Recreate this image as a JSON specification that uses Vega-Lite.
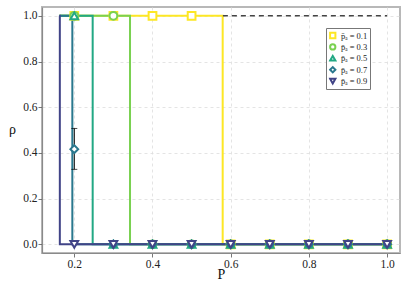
{
  "$schema": "https://vega.github.io/schema/vega-lite/v6.json",
  "autosize": "none",
  "width": 358,
  "height": 246,
  "padding": {"left": 42, "top": 7, "right": 7, "bottom": 35},
  "background": "white",
  "config": {
    "font": "Liberation Serif",
    "view": {"stroke": "#b8b8b8", "strokeWidth": 2},
    "axis": {
      "grid": true,
      "gridColor": "#dddddd",
      "gridDash": [3, 3],
      "gridWidth": 0.8,
      "domainColor": "#8a8a8a",
      "domainWidth": 1.2,
      "tickColor": "#555555",
      "tickSize": 4,
      "tickWidth": 0.8,
      "labelFont": "Liberation Serif",
      "labelFontSize": 11.5,
      "labelColor": "#222222",
      "labelPadding": 1,
      "titleFont": "Liberation Serif",
      "titleFontWeight": "normal",
      "titleColor": "#111111",
      "titleFontSize": 14
    },
    "legend": {
      "labelFont": "Liberation Serif",
      "labelFontSize": 8.5,
      "labelColor": "#222222",
      "strokeColor": "#777777",
      "fillColor": "white",
      "padding": 2.5,
      "cornerRadius": 0,
      "rowPadding": 1.4,
      "clipHeight": 10,
      "symbolSize": 28,
      "symbolStrokeWidth": 2,
      "symbolFillColor": "white",
      "labelOffset": 4
    }
  },
  "datasets": {
    "lines": [
      {"s": "0.1", "P": 0.162, "r": 1, "i": 0},
      {"s": "0.1", "P": 0.5795, "r": 1, "i": 1},
      {"s": "0.1", "P": 0.5795, "r": 0, "i": 2},
      {"s": "0.1", "P": 1.0, "r": 0, "i": 3},
      {"s": "0.3", "P": 0.162, "r": 1, "i": 0},
      {"s": "0.3", "P": 0.3425, "r": 1, "i": 1},
      {"s": "0.3", "P": 0.3425, "r": 0, "i": 2},
      {"s": "0.3", "P": 1.0, "r": 0, "i": 3},
      {"s": "0.5", "P": 0.162, "r": 1, "i": 0},
      {"s": "0.5", "P": 0.247, "r": 1, "i": 1},
      {"s": "0.5", "P": 0.247, "r": 0, "i": 2},
      {"s": "0.5", "P": 1.0, "r": 0, "i": 3},
      {"s": "0.7", "P": 0.162, "r": 1, "i": 0},
      {"s": "0.7", "P": 0.195, "r": 1, "i": 1},
      {"s": "0.7", "P": 0.195, "r": 0, "i": 2},
      {"s": "0.7", "P": 1.0, "r": 0, "i": 3},
      {"s": "0.9", "P": 0.162, "r": 1, "i": 0},
      {"s": "0.9", "P": 0.163, "r": 1, "i": 1},
      {"s": "0.9", "P": 0.163, "r": 0, "i": 2},
      {"s": "0.9", "P": 1.0, "r": 0, "i": 3}
    ],
    "dashed": [
      {"P": 0.58, "r": 1},
      {"P": 1.0, "r": 1}
    ],
    "points": [
      {"s": "0.1", "P": 0.2, "r": 1},
      {"s": "0.1", "P": 0.3, "r": 1},
      {"s": "0.1", "P": 0.4, "r": 1},
      {"s": "0.1", "P": 0.5, "r": 1},
      {"s": "0.1", "P": 0.6, "r": 0},
      {"s": "0.1", "P": 0.7, "r": 0},
      {"s": "0.1", "P": 0.8, "r": 0},
      {"s": "0.1", "P": 0.9, "r": 0},
      {"s": "0.1", "P": 1.0, "r": 0},
      {"s": "0.3", "P": 0.2, "r": 1},
      {"s": "0.3", "P": 0.3, "r": 1},
      {"s": "0.3", "P": 0.4, "r": 0},
      {"s": "0.3", "P": 0.5, "r": 0},
      {"s": "0.3", "P": 0.6, "r": 0},
      {"s": "0.3", "P": 0.7, "r": 0},
      {"s": "0.3", "P": 0.8, "r": 0},
      {"s": "0.3", "P": 0.9, "r": 0},
      {"s": "0.3", "P": 1.0, "r": 0},
      {"s": "0.5", "P": 0.2, "r": 1},
      {"s": "0.5", "P": 0.3, "r": 0},
      {"s": "0.5", "P": 0.4, "r": 0},
      {"s": "0.5", "P": 0.5, "r": 0},
      {"s": "0.5", "P": 0.6, "r": 0},
      {"s": "0.5", "P": 0.7, "r": 0},
      {"s": "0.5", "P": 0.8, "r": 0},
      {"s": "0.5", "P": 0.9, "r": 0},
      {"s": "0.5", "P": 1.0, "r": 0},
      {"s": "0.7", "P": 0.2, "r": 0.4165},
      {"s": "0.7", "P": 0.3, "r": 0},
      {"s": "0.7", "P": 0.4, "r": 0},
      {"s": "0.7", "P": 0.5, "r": 0},
      {"s": "0.7", "P": 0.6, "r": 0},
      {"s": "0.7", "P": 0.7, "r": 0},
      {"s": "0.7", "P": 0.8, "r": 0},
      {"s": "0.7", "P": 0.9, "r": 0},
      {"s": "0.7", "P": 1.0, "r": 0},
      {"s": "0.9", "P": 0.2, "r": 0},
      {"s": "0.9", "P": 0.3, "r": 0},
      {"s": "0.9", "P": 0.4, "r": 0},
      {"s": "0.9", "P": 0.5, "r": 0},
      {"s": "0.9", "P": 0.6, "r": 0},
      {"s": "0.9", "P": 0.7, "r": 0},
      {"s": "0.9", "P": 0.8, "r": 0},
      {"s": "0.9", "P": 0.9, "r": 0},
      {"s": "0.9", "P": 1.0, "r": 0}
    ],
    "err": [
      {"P": 0.2, "lo": 0.328, "hi": 0.507}
    ],
    "caps": [
      {"P": 0.2, "v": 0.328},
      {"P": 0.2, "v": 0.507}
    ]
  },
  "encoding": {
    "x": {
      "field": "P",
      "type": "quantitative",
      "scale": {"domain": [0.1174, 1.033], "nice": false, "zero": false},
      "axis": {
        "title": "P",
        "values": [0.2, 0.4, 0.6, 0.8, 1.0],
        "format": ".1f",
        "labelFont": "Liberation Serif",
        "titleBaseline": "alphabetic",
        "titleY": 25
      }
    },
    "y": {
      "field": "r",
      "type": "quantitative",
      "scale": {"domain": [-0.038, 1.0385], "nice": false, "zero": false},
      "axis": {
        "title": "ρ",
        "values": [0, 0.2, 0.4, 0.6, 0.8, 1.0],
        "format": ".1f",
        "labelFont": "Liberation Serif",
        "titleAngle": 0,
        "titleAlign": "center",
        "titleBaseline": "middle",
        "titleX": -30,
        "titleY": 122
      }
    }
  },
  "layer": [
    {
      "data": {"name": "lines"},
      "mark": {"type": "line", "strokeWidth": 2},
      "encoding": {
        "color": {
          "field": "s",
          "type": "nominal",
          "scale": {
            "domain": ["0.1", "0.3", "0.5", "0.7", "0.9"],
            "range": ["#fde725", "#7ad151", "#22a884", "#2a788e", "#414487"]
          }
        },
        "order": {"field": "i", "type": "quantitative"}
      }
    },
    {
      "data": {"name": "dashed"},
      "mark": {"type": "line", "strokeWidth": 1.5, "color": "#444444", "strokeDash": [5, 4]},
      "encoding": {}
    },
    {
      "data": {"name": "err"},
      "mark": {"type": "rule", "color": "black", "strokeWidth": 1},
      "encoding": {
        "y": {"field": "lo", "type": "quantitative"},
        "y2": {"field": "hi"}
      }
    },
    {
      "data": {"name": "caps"},
      "mark": {"type": "tick", "orient": "horizontal", "color": "black", "size": 6, "thickness": 1},
      "encoding": {
        "y": {"field": "v", "type": "quantitative"}
      }
    },
    {
      "data": {"name": "points"},
      "mark": {"type": "point", "filled": false, "fill": "white", "fillOpacity": 1, "strokeWidth": 2, "size": 60, "opacity": 1},
      "encoding": {
        "color": {
          "field": "s",
          "type": "nominal",
          "legend": {
            "title": null,
            "orient": "none",
            "legendX": 284,
            "legendY": 21,
            "labelExpr": "'p̄ₐ = ' + datum.label"
          }
        },
        "shape": {
          "field": "s",
          "type": "nominal",
          "scale": {
            "domain": ["0.1", "0.3", "0.5", "0.7", "0.9"],
            "range": ["square", "circle", "triangle-up", "diamond", "triangle-down"]
          },
          "legend": {
            "title": null,
            "orient": "none",
            "legendX": 284,
            "legendY": 21,
            "labelExpr": "'p̄ₐ = ' + datum.label"
          }
        }
      }
    }
  ]
}
